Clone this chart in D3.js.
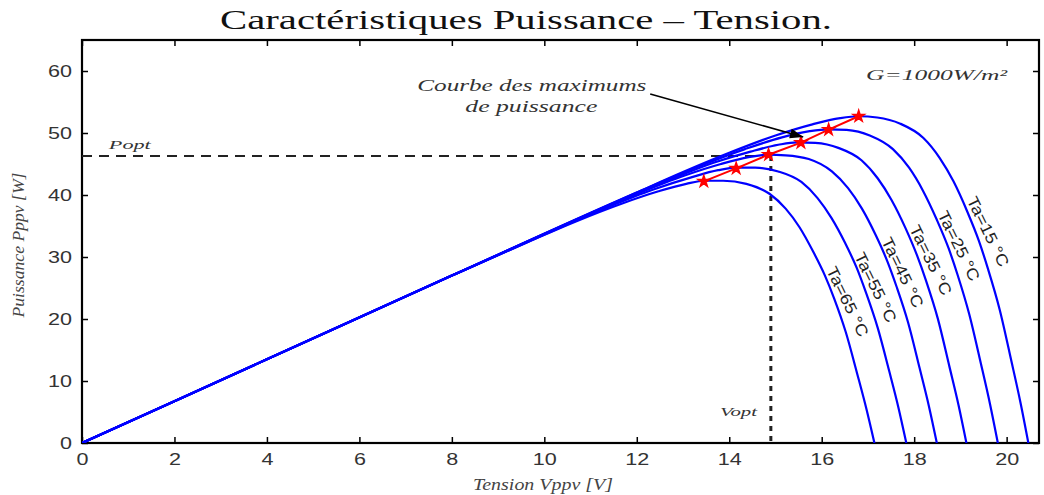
<!DOCTYPE html>
<html>
<head>
<meta charset="utf-8">
<script src="https://cdn.jsdelivr.net/npm/d3@7/dist/d3.min.js"></script>
<style>
  body { margin: 0; background: #fff; }
</style>
</head>
<body>
<div id="chart"></div>
<script>
// P-V curves, [V, P] pairs, one array per ambient temperature
const temperatures = [15, 25, 35, 45, 55, 65];

const curveTa15 = [[0,0],[4,13.5],[8,27.0],[12,40.4],[13,43.7],[14,46.8],[15,49.6],[15.8,51.4],[16.4,52.4],[16.8,52.7],[17.2,52.5],[17.7,51.5],[18.2,49.2],[18.55,46.0],[18.85,42.2],[19.15,37.3],[19.4,32.6],[19.6,28.0],[19.85,21.5],[20.1,13.3],[20.3,6.5],[20.47,0]];
const curveTa25 = [[0,0],[4,13.5],[8,27.0],[12.34,41.5],[13.34,44.6],[14.34,47.4],[15.14,49.3],[15.74,50.3],[16.14,50.6],[16.54,50.5],[17.04,49.6],[17.54,47.4],[17.89,44.4],[18.19,40.7],[18.49,36.0],[18.74,31.5],[18.94,27.1],[19.19,20.8],[19.44,12.9],[19.64,6.3],[19.81,0]];
const curveTa35 = [[0,0],[4,13.5],[8,27.0],[11.66,39.2],[12.66,42.3],[13.66,45.2],[14.46,47.0],[15.06,48.1],[15.46,48.5],[15.86,48.4],[16.36,47.6],[16.86,45.6],[17.21,42.7],[17.51,39.2],[17.81,34.7],[18.06,30.3],[18.26,26.1],[18.51,20.1],[18.76,12.4],[18.96,6.1],[19.13,0]];
const curveTa45 = [[0,0],[4,13.5],[8,27.0],[11.02,37.0],[12.02,40.2],[13.02,43.1],[13.82,45.0],[14.42,46.1],[14.82,46.5],[15.22,46.4],[15.72,45.8],[16.22,43.8],[16.57,41.1],[16.87,37.8],[17.17,33.5],[17.42,29.3],[17.62,25.2],[17.87,19.4],[18.12,12.0],[18.32,5.9],[18.49,0]];
const curveTa55 = [[0,0],[4,13.5],[8,27.0],[10.36,34.8],[11.36,38.0],[12.36,40.9],[13.16,42.8],[13.76,44.0],[14.16,44.4],[14.56,44.4],[15.06,43.8],[15.56,42.1],[15.91,39.5],[16.21,36.3],[16.51,32.2],[16.76,28.2],[16.96,24.2],[17.21,18.6],[17.46,11.6],[17.66,5.7],[17.83,0]];
const curveTa65 = [[0,0],[4,13.5],[8,27.0],[9.67,32.5],[10.67,35.7],[11.67,38.6],[12.47,40.6],[13.07,41.8],[13.47,42.3],[13.87,42.3],[14.37,41.8],[14.87,40.2],[15.22,37.8],[15.52,34.8],[15.82,30.8],[16.07,27.0],[16.27,23.3],[16.52,17.9],[16.77,11.1],[16.97,5.4],[17.14,0]];

const curves = [curveTa15, curveTa25, curveTa35, curveTa45, curveTa55, curveTa65];

// maximum power points (red)
const maxPowerV = [13.45, 14.15, 14.85, 15.55, 16.15, 16.8];
const maxPowerP = [42.2, 44.3, 46.5, 48.45, 50.55, 52.7];

const P_OPT = 46.3;
const V_OPT = 14.9;

const xTicks = [0, 2, 4, 6, 8, 10, 12, 14, 16, 18, 20];
const yTicks = [0, 10, 20, 30, 40, 50, 60];

// where the temperature labels sit, in data units (just right of each curve)
const labelSpots = [[19.6,34.1],[18.97,31.8],[18.36,29.5],[17.75,27.5],[17.17,25.1],[16.56,22.8]];

const WIDTH = 1044, HEIGHT = 495;
const MARGIN = { TOP: 40, RIGHT: 5, BOTTOM: 52, LEFT: 82 };
const SERIF = "'Liberation Serif', 'Times New Roman', serif";
const SANS = "'Liberation Sans', Arial, sans-serif";

const x = d3.scaleLinear().domain([0, 20.7]).range([MARGIN.LEFT, WIDTH - MARGIN.RIGHT]);
const y = d3.scaleLinear().domain([0, 65]).range([HEIGHT - MARGIN.BOTTOM, MARGIN.TOP]);

const svg = d3.select("#chart")
  .append("svg")
    .attr("width", WIDTH)
    .attr("height", HEIGHT);

svg.append("defs").append("clipPath")
    .attr("id", "plot-clip")
  .append("rect")
    .attr("x", x(0)).attr("y", y(65))
    .attr("width", x(20.7) - x(0)).attr("height", y(0) - y(65));

svg.select("defs").append("marker")
    .attr("id", "arrow")
    .attr("viewBox", "0 -5 12 10")
    .attr("refX", 12).attr("refY", 0)
    .attr("markerUnits", "userSpaceOnUse")
    .attr("markerWidth", 14).attr("markerHeight", 11)
    .attr("orient", "auto")
  .append("path")
    .attr("d", "M0,-4.5L12,0L0,4.5Z")
    .attr("fill", "#000");

// title
svg.append("text")
    .attr("x", 526).attr("y", 29)
    .attr("text-anchor", "middle")
    .attr("textLength", 612).attr("lengthAdjust", "spacingAndGlyphs")
    .style("font-family", SERIF).style("font-size", "28px").attr("fill", "#111")
    .text("Caractéristiques Puissance – Tension.");

// axes, MATLAB style ticks pointing inward on all four sides
const styleAxis = g => {
  g.select(".domain").remove();
  g.selectAll(".tick line").attr("stroke", "#000").attr("stroke-width", 1.5);
  g.selectAll(".tick text")
    .style("font-family", SANS).style("font-size", "17px").attr("fill", "#333")
    .attr("textLength", function () { return this.textContent.length * 12; })
    .attr("lengthAdjust", "spacingAndGlyphs");
};

svg.append("g")
  .attr("transform", `translate(0, ${y(0)})`)
  .call(d3.axisBottom(x).tickValues(xTicks).tickSize(-6).tickPadding(10))
  .call(styleAxis);

svg.append("g")
  .attr("transform", `translate(0, ${y(65)})`)
  .call(d3.axisTop(x).tickValues(xTicks).tickSize(-6).tickFormat(""))
  .call(styleAxis);

svg.append("g")
  .attr("transform", `translate(${x(0)}, 0)`)
  .call(d3.axisLeft(y).tickValues(yTicks).tickSize(-6).tickPadding(10))
  .call(styleAxis);

svg.append("g")
  .attr("transform", `translate(${x(20.7)}, 0)`)
  .call(d3.axisRight(y).tickValues(yTicks).tickSize(-6).tickFormat(""))
  .call(styleAxis);

svg.append("rect")
    .attr("x", x(0)).attr("y", y(65))
    .attr("width", x(20.7) - x(0)).attr("height", y(0) - y(65))
    .attr("fill", "none").attr("stroke", "#000").attr("stroke-width", 2.2);

// axis labels
svg.append("text")
    .attr("x", 543).attr("y", 490)
    .attr("text-anchor", "middle")
    .attr("textLength", 140).attr("lengthAdjust", "spacingAndGlyphs")
    .style("font-family", SERIF).style("font-size", "17px").style("font-style", "italic")
    .attr("fill", "#444")
    .text("Tension Vppv [V]");

svg.append("text")
    .attr("transform", "translate(24, 245) rotate(-90)")
    .attr("text-anchor", "middle")
    .attr("textLength", 145).attr("lengthAdjust", "spacingAndGlyphs")
    .style("font-family", SERIF).style("font-size", "17px").style("font-style", "italic")
    .attr("fill", "#444")
    .text("Puissance Pppv [W]");

// optimum point guides
svg.append("line")
    .attr("x1", x(0)).attr("x2", x(V_OPT))
    .attr("y1", y(P_OPT)).attr("y2", y(P_OPT))
    .attr("stroke", "#222").attr("stroke-width", 2)
    .attr("stroke-dasharray", "10,7");

svg.append("line")
    .attr("x1", x(V_OPT)).attr("x2", x(V_OPT))
    .attr("y1", y(P_OPT)).attr("y2", y(0))
    .attr("stroke", "#222").attr("stroke-width", 3)
    .attr("stroke-dasharray", "5,5");

// P-V curves
const line = d3.line()
  .x(d => x(d[0]))
  .y(d => y(d[1]))
  .curve(d3.curveMonotoneX);

svg.append("g")
    .attr("clip-path", "url(#plot-clip)")
  .selectAll("path")
  .data(curves)
  .join("path")
    .attr("d", line)
    .attr("fill", "none")
    .attr("stroke", "#0000ff")
    .attr("stroke-width", 2.2);

// maximum power locus
const mpp = maxPowerV.map((v, i) => [v, maxPowerP[i]]);

svg.append("path")
    .datum(mpp)
    .attr("d", d3.line().x(d => x(d[0])).y(d => y(d[1])))
    .attr("fill", "none")
    .attr("stroke", "#ff0000")
    .attr("stroke-width", 2);

svg.selectAll(".mpp")
  .data(mpp)
  .join("path")
    .attr("class", "mpp")
    .attr("transform", d => `translate(${x(d[0])}, ${y(d[1])})`)
    .attr("d", d3.symbol().type(d3.symbolStar).size(40))
    .attr("fill", "#ff0000")
    .attr("stroke", "#ff0000")
    .attr("stroke-width", 1.5);

// temperature labels along the curves
svg.selectAll(".ta-label")
  .data(temperatures)
  .join("text")
    .attr("class", "ta-label")
    .attr("transform", (d, i) => `translate(${x(labelSpots[i][0])}, ${y(labelSpots[i][1])}) rotate(64)`)
    .attr("text-anchor", "middle")
    .attr("dy", "0.35em")
    .attr("textLength", 76).attr("lengthAdjust", "spacingAndGlyphs")
    .style("font-family", SANS).style("font-size", "16px")
    .attr("fill", "#222")
    .text(d => `Ta=${d} °C`);

// annotations
const annotate = (txt, v, p, len, size, anchor) =>
  svg.append("text")
    .attr("x", x(v)).attr("y", y(p))
    .attr("text-anchor", anchor)
    .attr("textLength", len).attr("lengthAdjust", "spacingAndGlyphs")
    .style("font-family", SERIF).style("font-size", size).style("font-style", "italic")
    .attr("fill", "#333")
    .text(txt);

annotate("Courbe des maximums", 9.73, 56.8, 229, "16px", "middle");
annotate("de puissance", 9.72, 53.4, 132, "16px", "middle");
annotate("G=1000W/m²", 16.96, 58.5, 141, "15px", "start");
annotate("Popt", 0.58, 47.4, 42, "13px", "start");
annotate("Vopt", 13.8, 4.35, 37, "13px", "start");

svg.append("line")
    .attr("x1", x(12.29)).attr("y1", y(56.3))
    .attr("x2", x(15.6)).attr("y2", y(49.35))
    .attr("stroke", "#000").attr("stroke-width", 1.6)
    .attr("marker-end", "url(#arrow)");
</script>
</body>
</html>
